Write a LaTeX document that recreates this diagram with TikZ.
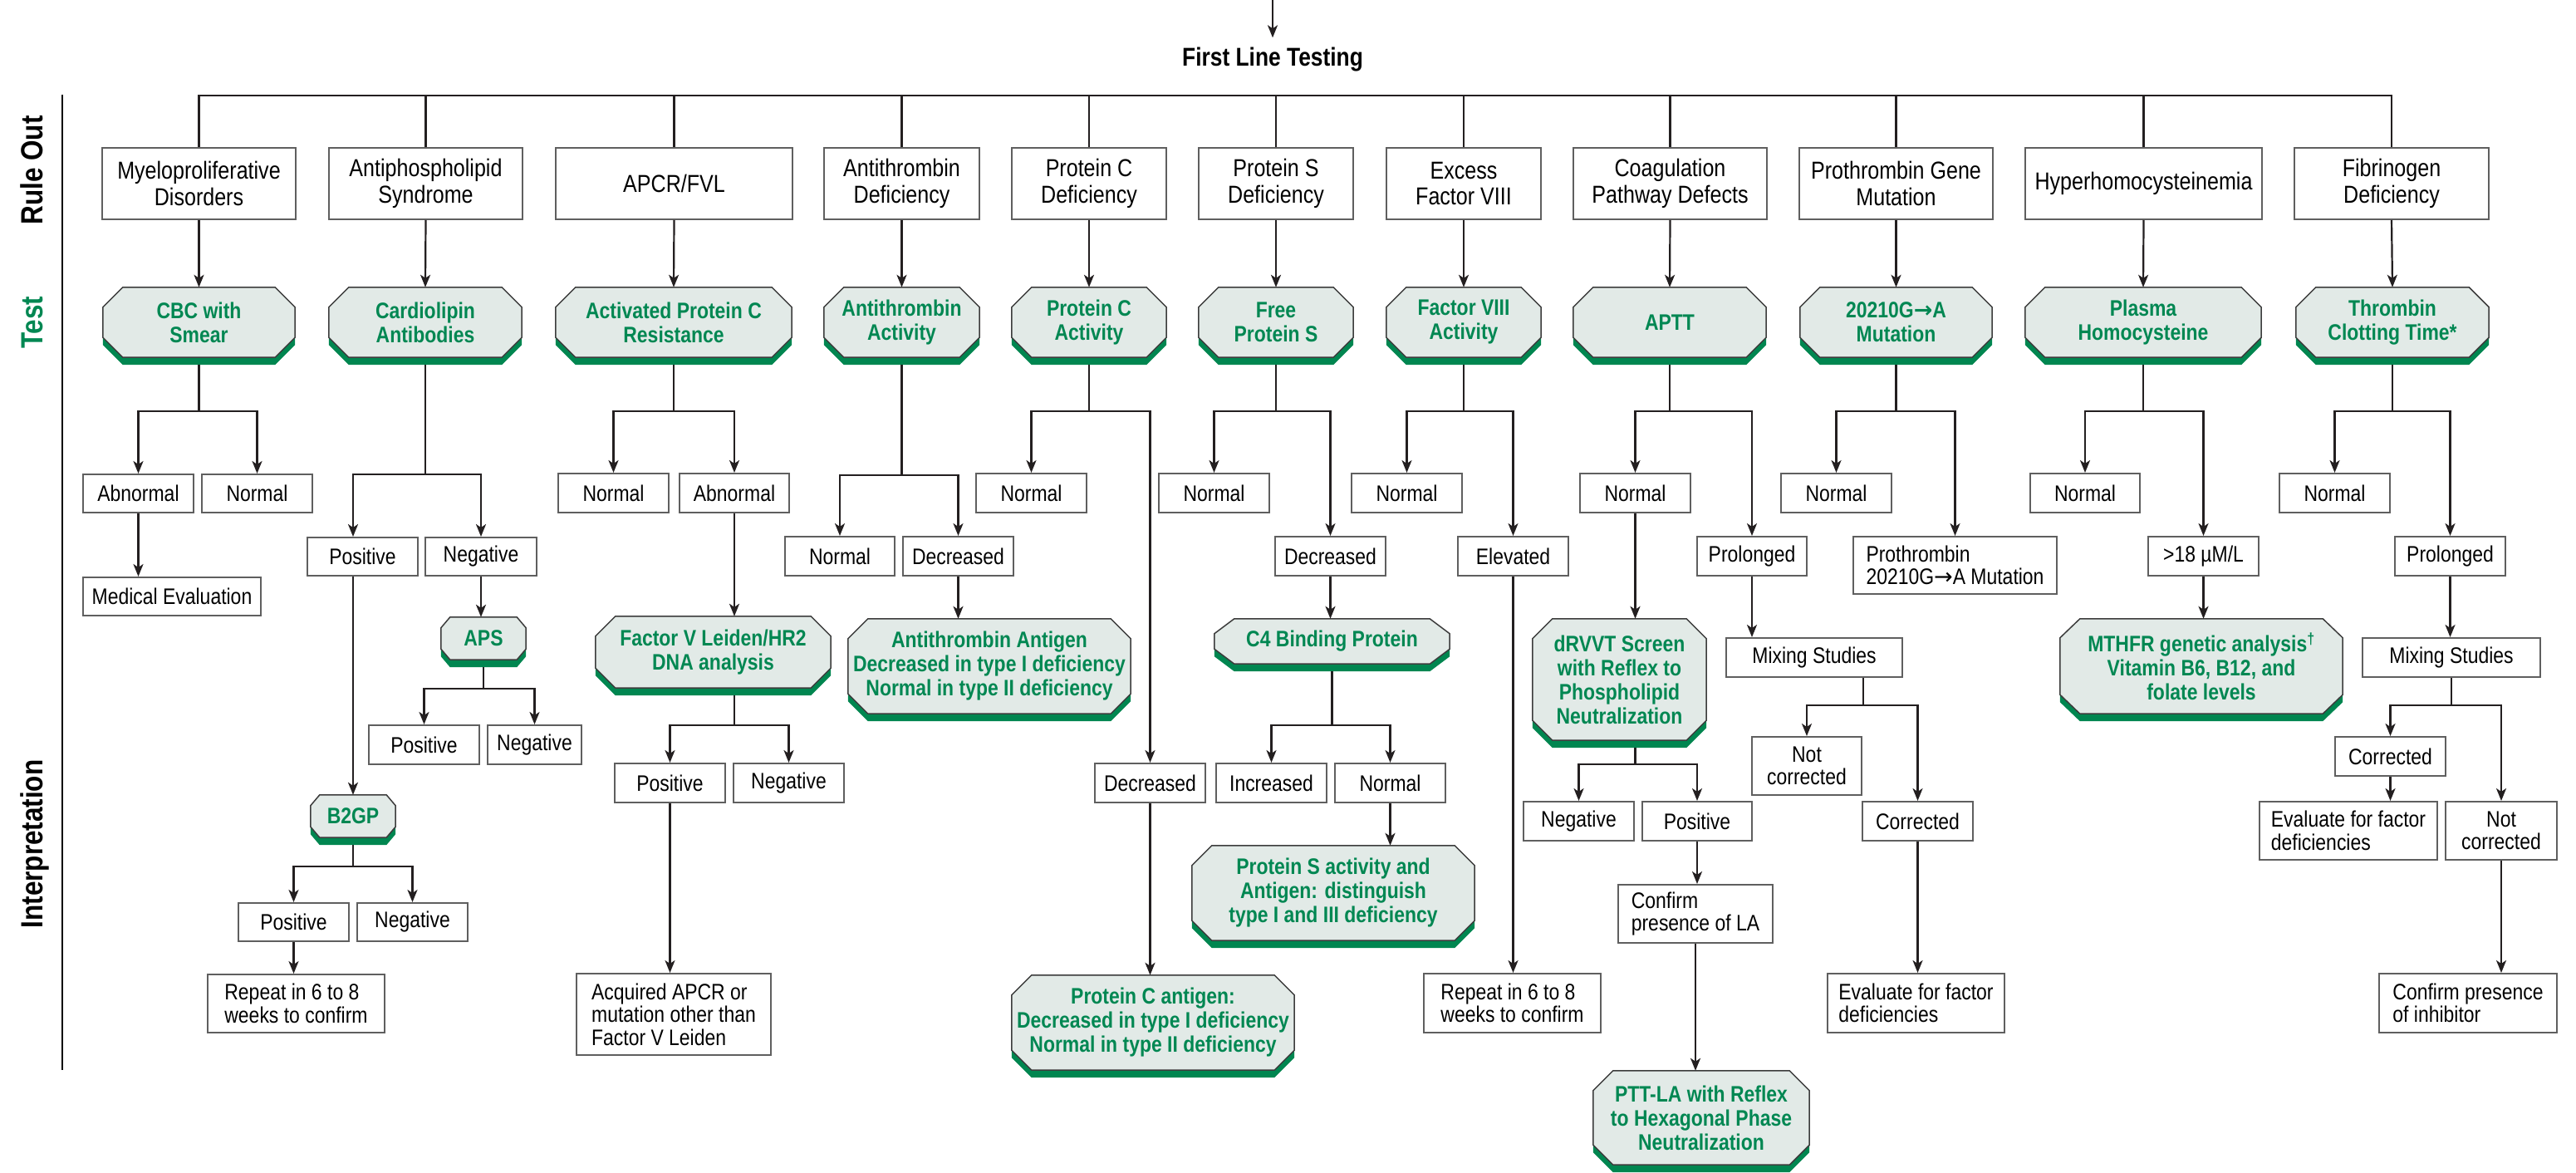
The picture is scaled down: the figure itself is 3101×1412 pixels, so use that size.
\documentclass[tikz,border=0pt]{standalone}
\usepackage{fontspec}
\setmainfont{Liberation Sans}[FakeStretch=0.85]
\newfontfamily\arrfont{DejaVu Sans}
\usetikzlibrary{arrows.meta,calc}
\definecolor{tgreen}{RGB}{0,135,82}
\definecolor{tfill}{RGB}{226,234,231}
\definecolor{tshade}{RGB}{0,134,80}
\definecolor{bxgray}{RGB}{95,95,95}
\definecolor{lnc}{RGB}{35,31,32}
\definecolor{ocline}{RGB}{60,60,60}
\pgfdeclarelayer{bg}
\pgfsetlayers{bg,main}
% box: [opts]{name}{x1}{y1}{x2}{y2}{text}
\newcommand\Bx[7][]{\node[bx,#1,minimum width={(#5-#3)*1pt},minimum height={(#6-#4)*1pt}] (#2) at ({(#3+#5)/2},{(#4+#6)/2}) {#7};}
\newcommand\Lx[7][]{\node[bx,#1,align=left,minimum width={(#5-#3)*1pt},minimum height={(#6-#4)*1pt}] (#2) at ({(#3+#5)/2},{(#4+#6)/2}) {#7};}
% octagon: [opts]{name}{x1}{y1}{x2}{y2}{chamfer x}{chamfer y}{text}
\newcommand\Oc[9][]{%
 \node[tst,#1,minimum width={(#5-#3)*1pt},minimum height={(#6-#4)*1pt}] (#2) at ({(#3+#5)/2},{(#4+#6)/2}) {#9};
 \coordinate (#2b) at ([yshift=-9pt]#2.south);
 \begin{pgfonlayer}{bg}
 \fill[tshade] let \p1=(#2.north west),\p2=(#2.south east) in
   (\x1+#7pt,\y1-9pt) -- (\x2-#7pt,\y1-9pt) -- (\x2,\y1-#8pt-9pt) -- (\x2,\y2+#8pt-9pt)
   -- (\x2-#7pt,\y2-9pt) -- (\x1+#7pt,\y2-9pt) -- (\x1,\y2+#8pt-9pt) -- (\x1,\y1-#8pt-9pt) -- cycle;
 \filldraw[fill=tfill,draw=ocline,line width=1.5pt] let \p1=(#2.north west),\p2=(#2.south east) in
   (\x1+#7pt,\y1) -- (\x2-#7pt,\y1) -- (\x2,\y1-#8pt) -- (\x2,\y2+#8pt)
   -- (\x2-#7pt,\y2) -- (\x1+#7pt,\y2) -- (\x1,\y2+#8pt) -- (\x1,\y1-#8pt) -- cycle;
 \end{pgfonlayer}}
\begin{document}
\begin{tikzpicture}[x=1pt,y=-1pt,
 bx/.style={draw=bxgray,line width=2pt,fill=white,inner sep=0pt,align=center,font=\fontsize{27}{27.5}\selectfont},
 rb/.style={font=\fontsize{29.5}{31.5}\selectfont},
 tst/.style={inner sep=0pt,align=center,text=tgreen,font=\bfseries\fontsize{27}{29}\selectfont},
 ln/.style={draw=lnc,line width=2.2pt},
 arr/.style={ln,-{Stealth[length=15pt,width=12pt,inset=4pt]}},
 side/.style={font=\bfseries\fontsize{37}{40}\selectfont,rotate=90,anchor=base,inner sep=0pt}]
\useasboundingbox (0,0) rectangle (3101,1412);

% ---- title
\coordinate (topin) at (1532,0);
\node[font=\bfseries\fontsize{31}{34}\selectfont,anchor=base,inner sep=0pt] (flt) at (1532,80) {First Line Testing};
\draw[arr] (topin) -- ([yshift=12pt]flt.north);

% ---- side labels
\coordinate (vl1) at (75,114);
\coordinate (vl2) at (75,1288);
\draw[line width=2.6pt,black] (vl1) -- (vl2);
\node[side] (sRule) at (51,205) {Rule Out};
\node[side,text=tgreen] (sTest) at (51,388) {Test};
\node[side] (sInt) at (51,1016) {Interpretation};

% ---- rule out row
\Bx[rb]{r1}{123}{178}{356}{264}{Myeloproliferative\\Disorders}
\Bx[rb]{r2}{396}{178}{629}{264}{Antiphospholipid\\Syndrome}
\Bx[rb]{r3}{669}{178}{954}{264}{APCR/FVL}
\Bx[rb]{r4}{992}{178}{1179}{264}{Antithrombin\\Deficiency}
\Bx[rb]{r5}{1218}{178}{1404}{264}{Protein C\\Deficiency}
\Bx[rb]{r6}{1443}{178}{1629}{264}{Protein S\\Deficiency}
\Bx[rb]{r7}{1669}{178}{1855}{264}{Excess\\Factor VIII}
\Bx[rb]{r8}{1894}{178}{2127}{264}{Coagulation\\Pathway Defects}
\Bx[rb]{r9}{2166}{178}{2399}{264}{Prothrombin Gene\\Mutation}
\Bx[rb]{r10}{2438}{178}{2723}{264}{Hyperhomocysteinemia}
\Bx[rb]{r11}{2762}{178}{2996}{264}{Fibrinogen\\Deficiency}

\coordinate (bus) at (0,115);
\draw[ln] (r1.north) -- (r1.north |- bus) -- (r11.north |- bus) -- (r11.north);
\foreach \k in {2,...,10} {\draw[ln] (r\k.north) -- (r\k.north |- bus);}

% ---- test row
\Oc{t1}{124}{346}{355}{430}{24}{24}{CBC with\\Smear}
\Oc{t2}{396}{346}{628}{430}{24}{24}{Cardiolipin\\Antibodies}
\Oc{t3}{669}{346}{953}{430}{24}{24}{Activated Protein C\\Resistance}
\Oc{t4}{992}{346}{1179}{430}{24}{24}{Antithrombin\\Activity}
\Oc{t5}{1218}{346}{1404}{430}{24}{24}{Protein C\\Activity}
\Oc{t6}{1443}{346}{1629}{430}{24}{24}{Free\\Protein S}
\Oc{t7}{1669}{346}{1855}{430}{24}{24}{Factor VIII\\Activity}
\Oc{t8}{1894}{346}{2126}{430}{24}{24}{APTT}
\Oc{t9}{2167}{346}{2398}{430}{24}{24}{20210G{\arrfont →}A\\Mutation}
\Oc{t10}{2438}{346}{2722}{430}{24}{24}{Plasma\\Homocysteine}
\Oc{t11}{2764}{346}{2996}{430}{24}{24}{Thrombin\\Clotting Time*}
\foreach \k in {1,...,11} {\draw[arr] (r\k.south) -- (t\k.north);}

\coordinate (Y1) at (0,495);

% ---- column 1
\Bx{a1}{100}{571}{233}{617}{Abnormal}
\Bx{n1}{243}{571}{376}{617}{Normal}
\Bx{m1}{100}{695}{314}{741}{Medical Evaluation}
\coordinate (k1) at (t1.south |- Y1);
\draw[ln] (t1b) -- (k1);
\draw[arr] (k1) -| (a1.north);
\draw[arr] (k1) -| (n1.north);
\draw[arr] (a1.south) -- (a1.south |- m1.north);

% ---- column 2
\Bx{p2}{370}{647}{503}{693}{Positive}
\Bx{g2}{512}{647}{646}{693}{Negative}
\Oc{aps}{531}{743}{633}{794}{11}{13}{APS}
\Bx{p2b}{444}{873}{577}{920}{Positive}
\Bx{g2b}{587}{873}{700}{920}{Negative}
\Oc{b2gp}{374}{957}{476}{1008}{11}{13}{B2GP}
\Bx{p2c}{287}{1087}{420}{1133}{Positive}
\Bx{g2c}{430}{1087}{563}{1133}{Negative}
\Lx{rep2}{250}{1173}{463}{1243}{Repeat in 6 to 8\\weeks to confirm}
\coordinate (Y2) at (0,571);
\coordinate (k2) at (t2.south |- Y2);
\draw[ln] (t2b) -- (k2);
\draw[arr] (k2) -| (b2gp.north |- p2.north);
\draw[arr] (k2) -| (g2.north);
\draw[arr] (g2.south) -- (g2.south |- aps.north);
\coordinate (Y2b) at (0,829);
\coordinate (k2b) at (aps.south |- Y2b);
\draw[ln] (apsb) -- (k2b);
\draw[arr] (k2b) -| (p2b.north);
\draw[arr] (k2b) -| (g2b.north);
\draw[arr] (p2.south -| b2gp.north) -- (b2gp.north);
\coordinate (Y2c) at (0,1043);
\coordinate (k2c) at (b2gp.south |- Y2c);
\draw[ln] (b2gpb) -- (k2c);
\draw[arr] (k2c) -| (p2c.north);
\draw[arr] (k2c) -| (g2c.north);
\draw[arr] (p2c.south) -- (p2c.south |- rep2.north);

% ---- column 3
\Bx{n3}{672}{570}{805}{617}{Normal}
\Bx{ab3}{818}{570}{950}{617}{Abnormal}
\Oc{fvl}{717}{742}{1000}{828}{24}{24}{Factor V Leiden/HR2\\DNA analysis}
\Bx{p3}{740}{919}{873}{966}{Positive}
\Bx{g3}{883}{919}{1016}{966}{Negative}
\Lx{acq}{694}{1172}{928}{1270}{Acquired APCR or\\mutation other than\\Factor V Leiden}
\coordinate (k3) at (t3.south |- Y1);
\draw[ln] (t3b) -- (k3);
\draw[arr] (k3) -| (n3.north);
\draw[arr] (k3) -| (ab3.north);
\draw[arr] (ab3.south) -- (ab3.south |- fvl.north);
\coordinate (Y3b) at (0,873);
\coordinate (k3b) at (ab3.south |- Y3b);
\draw[ln] (fvlb -| ab3.south) -- (k3b);
\draw[arr] (k3b) -| (p3.north);
\draw[arr] (k3b) -| (g3.north);
\draw[arr] (p3.south) -- (p3.south |- acq.north);

% ---- column 4
\Bx{n4}{945}{646}{1077}{693}{Normal}
\Bx{d4}{1087}{646}{1220}{693}{Decreased}
\Oc{ata}{1021}{745}{1361}{859}{24}{24}{Antithrombin Antigen\\Decreased in type I deficiency\\Normal in type II deficiency}
\coordinate (Y4) at (0,572);
\coordinate (k4) at (t4.south |- Y4);
\draw[ln] (t4b) -- (k4);
\draw[arr] (k4) -| (n4.north);
\draw[arr] (k4) -| (d4.north);
\draw[arr] (d4.south) -- (d4.south |- ata.north);

% ---- column 5
\Bx{n5}{1175}{570}{1308}{617}{Normal}
\Bx{d5}{1318}{919}{1451}{966}{Decreased}
\Oc{pca}{1218}{1174}{1558}{1288}{24}{24}{Protein C antigen:\\Decreased in type I deficiency\\Normal in type II deficiency}
\coordinate (k5) at (t5.south |- Y1);
\draw[ln] (t5b) -- (k5);
\draw[arr] (k5) -| (n5.north);
\draw[arr] (k5) -| (d5.north);
\draw[arr] (d5.south) -- (d5.south |- pca.north);

% ---- column 6
\Bx{n6}{1395}{570}{1528}{617}{Normal}
\Bx{d6}{1535}{646}{1668}{693}{Decreased}
\Oc{c4}{1462}{745}{1745}{799}{24}{18}{C4 Binding Protein}
\Bx{i6}{1464}{919}{1597}{966}{Increased}
\Bx{n6b}{1607}{919}{1740}{966}{Normal}
\Oc{psa}{1435}{1018}{1775}{1132}{24}{24}{Protein S activity and\\Antigen: distinguish\\type I and III deficiency}
\coordinate (k6) at (t6.south |- Y1);
\draw[ln] (t6b) -- (k6);
\draw[arr] (k6) -| (n6.north);
\draw[arr] (k6) -| (d6.north);
\draw[arr] (d6.south) -- (d6.south |- c4.north);
\coordinate (k6b) at (c4.south |- Y3b);
\draw[ln] (c4b) -- (k6b);
\draw[arr] (k6b) -| (i6.north);
\draw[arr] (k6b) -| (n6b.north);
\draw[arr] (n6b.south) -- (n6b.south |- psa.north);

% ---- column 7
\Bx{n7}{1627}{570}{1760}{617}{Normal}
\Bx{e7}{1755}{646}{1888}{693}{Elevated}
\Lx{rep7}{1714}{1172}{1927}{1243}{Repeat in 6 to 8\\weeks to confirm}
\coordinate (k7) at (t7.south |- Y1);
\draw[ln] (t7b) -- (k7);
\draw[arr] (k7) -| (n7.north);
\draw[arr] (k7) -| (e7.north);
\draw[arr] (e7.south) -- (e7.south |- rep7.north);

% ---- column 8
\Bx{n8}{1902}{570}{2035}{617}{Normal}
\Bx{pr8}{2043}{646}{2175}{693}{Prolonged}
\Oc{drv}{1845}{745}{2054}{891}{24}{24}{dRVVT Screen\\with Reflex to\\Phospholipid\\Neutralization}
\Bx{ng8}{1834}{965}{1967}{1012}{Negative}
\Bx{ps8}{1977}{965}{2109}{1012}{Positive}
\Lx{cf8}{1948}{1065}{2134}{1135}{Confirm\\presence of LA}
\Oc{ptt}{1918}{1289}{2178}{1402}{24}{24}{PTT-LA with Reflex\\to Hexagonal Phase\\Neutralization}
\Bx{mx8}{2078}{768}{2290}{815}{Mixing Studies}
\Bx{nc8}{2109}{887}{2241}{957}{Not\\corrected}
\Bx{co8}{2242}{965}{2375}{1012}{Corrected}
\Lx{ev8}{2200}{1172}{2413}{1243}{Evaluate for factor\\deficiencies}
\coordinate (k8) at (t8.south |- Y1);
\draw[ln] (t8b) -- (k8);
\draw[arr] (k8) -| (n8.north);
\draw[arr] (k8) -| (pr8.north);
\draw[arr] (n8.south) -- (n8.south |- drv.north);
\coordinate (Y8b) at (0,920);
\coordinate (k8b) at (n8.south |- Y8b);
\draw[ln] (drvb -| n8.south) -- (k8b);
\draw[arr] (k8b) -| (ng8.north);
\draw[arr] (k8b) -| (ps8.north);
\draw[arr] (ps8.south) -- (ps8.south |- cf8.north);
\draw[arr] (cf8.south) -- (cf8.south |- ptt.north);
\draw[arr] (pr8.south) -- (pr8.south |- mx8.north);
\coordinate (k8c) at (2243,849);
\draw[ln] (mx8.south -| k8c) -- (k8c);
\draw[arr] (k8c) -| (nc8.north);
\draw[arr] (k8c) -| (co8.north);
\draw[arr] (co8.south) -- (co8.south |- ev8.north);

% ---- column 9
\Bx{n9}{2144}{570}{2277}{617}{Normal}
\Lx{pm9}{2231}{646}{2476}{715}{Prothrombin\\20210G{\arrfont →}A Mutation}
\coordinate (k9) at (t9.south |- Y1);
\draw[ln] (t9b) -- (k9);
\draw[arr] (k9) -| (n9.north);
\draw[arr] (k9) -| (pm9.north);

% ---- column 10
\Bx{n10}{2444}{570}{2576}{617}{Normal}
\Bx{h10}{2586}{646}{2719}{693}{>18 µM/L}
\Oc{mth}{2480}{745}{2820}{859}{24}{23}{MTHFR genetic analysis\textsuperscript{†}\\Vitamin B6, B12, and\\folate levels}
\coordinate (k10) at (t10.south |- Y1);
\draw[ln] (t10b) -- (k10);
\draw[arr] (k10) -| (n10.north);
\draw[arr] (k10) -| (h10.north);
\draw[arr] (h10.south) -- (h10.south |- mth.north);

% ---- column 11
\Bx{n11}{2744}{570}{2877}{617}{Normal}
\Bx{pr11}{2883}{646}{3016}{693}{Prolonged}
\Bx{mx11}{2844}{768}{3058}{815}{Mixing Studies}
\Bx{co11}{2811}{887}{2944}{934}{Corrected}
\Lx{ev11}{2720}{965}{2934}{1035}{Evaluate for factor\\deficiencies}
\Bx{nc11}{2944}{965}{3078}{1035}{Not\\corrected}
\Lx{cp11}{2864}{1172}{3078}{1243}{Confirm presence\\of inhibitor}
\coordinate (k11) at (t11.south |- Y1);
\draw[ln] (t11b) -- (k11);
\draw[arr] (k11) -| (n11.north);
\draw[arr] (k11) -| (pr11.north);
\draw[arr] (pr11.south) -- (pr11.south |- mx11.north);
\coordinate (Y11b) at (0,849);
\coordinate (k11b) at (mx11.south |- Y11b);
\draw[ln] (mx11.south) -- (k11b);
\draw[arr] (k11b) -| (co11.north);
\draw[arr] (k11b) -| (nc11.north);
\draw[arr] (co11.south) -- (co11.south |- ev11.north);
\draw[arr] (nc11.south) -- (nc11.south |- cp11.north);
\end{tikzpicture}
\end{document}
